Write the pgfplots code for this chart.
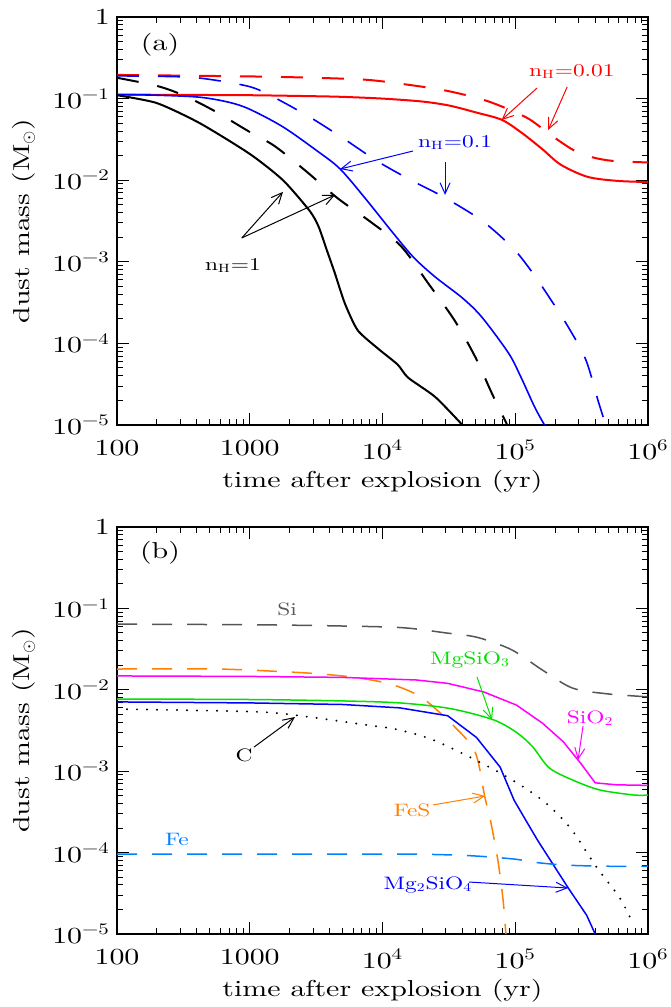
\documentclass[border=0pt]{standalone}
\usepackage{fontspec}
\setmainfont{lmroman10-regular.otf}[BoldFont=lmroman10-bold.otf, FakeStretch=1.3]
\usepackage{pgfplots}
\pgfplotsset{compat=1.18}
\usetikzlibrary{arrows.meta}
\definecolor{cgreen}{RGB}{0,225,0}
\definecolor{corange}{RGB}{255,128,0}
\definecolor{cfe}{RGB}{0,128,255}
\definecolor{cgray}{RGB}{85,85,85}
\definecolor{cmag}{RGB}{255,0,255}
\newcommand\af{\fontsize{9}{11}\selectfont}
\newcommand\tf{\fontsize{11.5}{13.5}\selectfont}
\tikzset{
  dA/.style={dash pattern=on 11pt off 9.5pt},
  dB/.style={dash pattern=on 10pt off 7.5pt},
  arr/.style={line width=0.5pt, -{Straight Barb[length=5.5pt,width=5pt]}},
}
\begin{document}
\begin{tikzpicture}
\useasboundingbox (0,0) rectangle (335pt,503.5pt);
% ---------------- panel (a)
\begin{axis}[at={(58.5pt,291pt)}, anchor=south west,
    xmode=log, ymode=log, scale only axis, width=265.5pt, height=204pt,
    xmin=100, xmax=1e6, ymin=1e-5, ymax=1,
    xtick={100,1000,10000,100000,1000000},
    xticklabels={100,1000,10\textsuperscript{4},10\textsuperscript{5},10\textsuperscript{6}},
    ytick={1e-5,1e-4,1e-3,1e-2,1e-1,1},
    yticklabels={10\textsuperscript{−5},10\textsuperscript{−4},10\textsuperscript{−3},10\textsuperscript{−2},10\textsuperscript{−1},1},
    minor xtick={200,300,400,500,600,700,800,900,2000,3000,4000,5000,6000,7000,8000,9000,20000,30000,40000,50000,60000,70000,80000,90000,200000,300000,400000,500000,600000,700000,800000,900000},
    minor ytick={2e-5,3e-5,4e-5,5e-5,6e-5,7e-5,8e-5,9e-5,2e-4,3e-4,4e-4,5e-4,6e-4,7e-4,8e-4,9e-4,2e-3,3e-3,4e-3,5e-3,6e-3,7e-3,8e-3,9e-3,2e-2,3e-2,4e-2,5e-2,6e-2,7e-2,8e-2,9e-2,0.2,0.3,0.4,0.5,0.6,0.7,0.8,0.9},
    major tick length=6pt, minor tick length=3pt,
    tick align=inside, xtick pos=both, ytick pos=both,
    tick style={black, line width=0.5pt},
    axis line style={line width=0.9pt},
    tick label style={font=\tf},
    xticklabel style={yshift=-4pt},
    xlabel={time after explosion (yr)},
    ylabel={dust mass (M\textsubscript{$\odot$})},
    xlabel style={font=\tf, at={(axis description cs:0.5,-0.14)}, anchor=center},
    ylabel style={font=\tf, at={(axis description cs:-0.175,0.5)}, anchor=center},
  ]
% nH=0.01
\addplot[red, line width=1pt, smooth, tension=0.5] coordinates {
(100,0.112)(300,0.111)(1000,0.11)(3000,0.107)(5000,0.105)(10000,0.1)(20000,0.092)(32000,0.082)(50000,0.068)(79000,0.055)(112000,0.038)(160000,0.024)(220000,0.0155)(350000,0.011)(590000,0.0098)(1000000,0.0095)};
\addplot[red, line width=1pt, dA, smooth, tension=0.5] coordinates {
(100,0.195)(1000,0.187)(3000,0.18)(7600,0.17)(16000,0.147)(31000,0.124)(62000,0.093)(118000,0.06)(160000,0.043)(210000,0.031)(280000,0.023)(385000,0.019)(550000,0.0172)(1000000,0.0165)};
% nH=0.1
\addplot[blue, line width=0.8pt, smooth, tension=0.5] coordinates {
(100,0.112)(200,0.11)(420,0.104)(700,0.09)(1000,0.074)(1780,0.045)(3200,0.023)(4800,0.0137)(7600,0.0057)(11400,0.0025)(17000,0.00115)(25000,6.5e-4)(40000,3.6e-4)(56000,2.1e-4)(89000,7.6e-5)(110000,3.9e-5)(140000,1.66e-5)(166000,1.0e-5)};
\addplot[blue, line width=0.8pt, dA, smooth, tension=0.5] coordinates {
(100,0.19)(300,0.185)(500,0.172)(1000,0.14)(1500,0.105)(2800,0.06)(5000,0.033)(9300,0.0168)(17000,0.0097)(29000,0.0062)(56000,0.0032)(95000,0.0015)(130000,8e-4)(166000,4.5e-4)(250000,1.6e-4)(340000,6.3e-5)(420000,2e-5)(480000,1e-5)};
% nH=1
\addplot[black, line width=1pt, smooth, tension=0.4] coordinates {
(100,0.11)(200,0.088)(420,0.05)(1000,0.021)(1780,0.01)(2830,0.0042)(3300,0.0027)(3800,0.0014)(4370,7.3e-4)(5200,3.1e-4)(6500,1.45e-4)(9200,8.7e-5)(13000,5.5e-5)(15600,3.8e-5)(25000,2.2e-5)(40000,1e-5)};
\addplot[black, line width=1pt, dA, smooth, tension=0.5] coordinates {
(100,0.18)(200,0.143)(315,0.11)(530,0.072)(1000,0.039)(1550,0.026)(2700,0.0126)(4600,0.006)(8100,0.0031)(13800,0.00155)(22000,5.5e-4)(35000,1.9e-4)(50000,6.8e-5)(67000,2.4e-5)(87000,1e-5)};
% annotations
\node[font=\tf] at (211,0.454) {(a)};
\node[font=\af, text=red] at (2.67e5,0.212) {n\textsubscript{H}=0.01};
\draw[red, arr] (1.46e5,0.135) -- (7.9e4,0.0547);
\draw[red, arr] (2.46e5,0.139) -- (1.77e5,0.0412);
\node[font=\af, text=blue] at (3.52e4,0.0286) {n\textsubscript{H}=0.1};
\draw[blue, arr] (1.7e4,0.0228) -- (4790,0.0137);
\draw[blue, arr] (2.96e4,0.0167) -- (2.96e4,0.0066);
\node[font=\af] at (748,9.1e-4) {n\textsubscript{H}=1};
\draw[black, arr] (871,1.96e-3) -- (1780,7.2e-3);
\draw[black, arr] (871,1.96e-3) -- (4390,6.6e-3);
\end{axis}
% ---------------- panel (b)
\begin{axis}[at={(58.5pt,36.5pt)}, anchor=south west,
    xmode=log, ymode=log, scale only axis, width=265.5pt, height=203.5pt,
    xmin=100, xmax=1e6, ymin=1e-5, ymax=1,
    xtick={100,1000,10000,100000,1000000},
    xticklabels={100,1000,10\textsuperscript{4},10\textsuperscript{5},10\textsuperscript{6}},
    ytick={1e-5,1e-4,1e-3,1e-2,1e-1,1},
    yticklabels={10\textsuperscript{−5},10\textsuperscript{−4},10\textsuperscript{−3},10\textsuperscript{−2},10\textsuperscript{−1},1},
    minor xtick={200,300,400,500,600,700,800,900,2000,3000,4000,5000,6000,7000,8000,9000,20000,30000,40000,50000,60000,70000,80000,90000,200000,300000,400000,500000,600000,700000,800000,900000},
    minor ytick={2e-5,3e-5,4e-5,5e-5,6e-5,7e-5,8e-5,9e-5,2e-4,3e-4,4e-4,5e-4,6e-4,7e-4,8e-4,9e-4,2e-3,3e-3,4e-3,5e-3,6e-3,7e-3,8e-3,9e-3,2e-2,3e-2,4e-2,5e-2,6e-2,7e-2,8e-2,9e-2,0.2,0.3,0.4,0.5,0.6,0.7,0.8,0.9},
    major tick length=6pt, minor tick length=3pt,
    tick align=inside, xtick pos=both, ytick pos=both,
    tick style={black, line width=0.5pt},
    axis line style={line width=0.9pt},
    tick label style={font=\tf},
    xticklabel style={yshift=-4pt},
    xlabel={time after explosion (yr)},
    ylabel={dust mass (M\textsubscript{$\odot$})},
    xlabel style={font=\tf, at={(axis description cs:0.5,-0.14)}, anchor=center},
    ylabel style={font=\tf, at={(axis description cs:-0.175,0.5)}, anchor=center},
  ]
% Si
\addplot[cgray, line width=0.75pt, dB, smooth, tension=0.5] coordinates {
(100,0.064)(1000,0.063)(4400,0.061)(14000,0.058)(30000,0.05)(52000,0.044)(94000,0.031)(160000,0.0175)(270000,0.0105)(500000,0.0089)(1000000,0.0082)};
% FeS
\addplot[corange, line width=0.75pt, dB, smooth, tension=0.5] coordinates {
(100,0.018)(570,0.018)(1900,0.0166)(3500,0.0156)(6600,0.014)(12000,0.0115)(20000,0.0079)(35000,0.0035)(50000,0.0017)(59000,4.8e-4)(65000,2.5e-4)(74000,8e-5)(81000,2.6e-5)(85000,1e-5)};
% SiO2
\addplot[cmag, line width=0.75pt] coordinates {
(100,0.0148)(1000,0.0146)(5000,0.0142)(18000,0.0132)(31000,0.012)(58000,0.0094)(102000,0.0065)(160000,0.0039)(230000,0.0023)(310000,0.00126)(400000,7.2e-4)(580000,6.8e-4)(1000000,6.7e-4)};
% MgSiO3
\addplot[cgreen, line width=0.75pt, smooth, tension=0.5] coordinates {
(100,0.0077)(1000,0.0076)(5000,0.0073)(13500,0.0069)(32000,0.0059)(68000,0.0043)(102000,0.003)(135000,0.002)(180000,0.0011)(270000,7.8e-4)(430000,5.9e-4)(780000,5.1e-4)(1000000,5.1e-4)};
% Mg2SiO4
\addplot[blue, line width=0.75pt] coordinates {
(100,0.0071)(1000,0.0069)(5000,0.0066)(13500,0.006)(31000,0.0048)(51000,0.0026)(77000,0.00112)(98000,4.4e-4)(120000,2.5e-4)(148000,1.4e-4)(250000,3.7e-5)(345000,1.7e-5)(400000,1e-5)};
% C
\addplot[black, line width=1.1pt, line cap=round, dash pattern=on 0pt off 5pt, smooth, tension=0.5] coordinates {
(100,0.0058)(1000,0.0054)(2150,0.0049)(7600,0.0037)(13500,0.0032)(26000,0.0023)(77000,9.5e-4)(160000,4.4e-4)(260000,2e-4)(410000,6.6e-5)(610000,2.8e-5)(780000,1.3e-5)};
% Fe
\addplot[cfe, line width=0.75pt, dB, smooth, tension=0.5] coordinates {
(100,9.6e-5)(10000,9.6e-5)(30000,9.4e-5)(55000,9e-5)(100000,8.3e-5)(150000,7.5e-5)(250000,7e-5)(500000,6.8e-5)(1000000,6.8e-5)};
% annotations
\node[font=\tf] at (211,0.48) {(b)};
\node[font=\af, text=cgray] at (1910,0.098) {Si};
\node[font=\af, text=cgreen] at (4.56e4,0.0232) {MgSiO\textsubscript{3}};
\draw[cgreen, arr] (5.15e4,0.01436) -- (6.68e4,4.26e-3);
\node[font=\af, text=cmag] at (3.66e5,4.5e-3) {SiO\textsubscript{2}};
\draw[cmag, arr] (3.24e5,3.59e-3) -- (2.97e5,1.37e-3);
\node[font=\af] at (906,1.58e-3) {C};
\draw[black, arr] (1077,1.98e-3) -- (2190,4.63e-3);
\node[font=\af, text=corange] at (1.67e4,3.34e-4) {FeS};
\draw[corange, arr] (2.4e4,3.85e-4) -- (5.92e4,4.96e-4);
\node[font=\af, text=cfe] at (283,1.43e-4) {Fe};
\node[font=\af, text=blue] at (2.2e4,4e-5) {Mg\textsubscript{2}SiO\textsubscript{4}};
\draw[blue, arr] (4.49e4,4.35e-5) -- (2.5e5,3.67e-5);
\end{axis}
\end{tikzpicture}
\end{document}
